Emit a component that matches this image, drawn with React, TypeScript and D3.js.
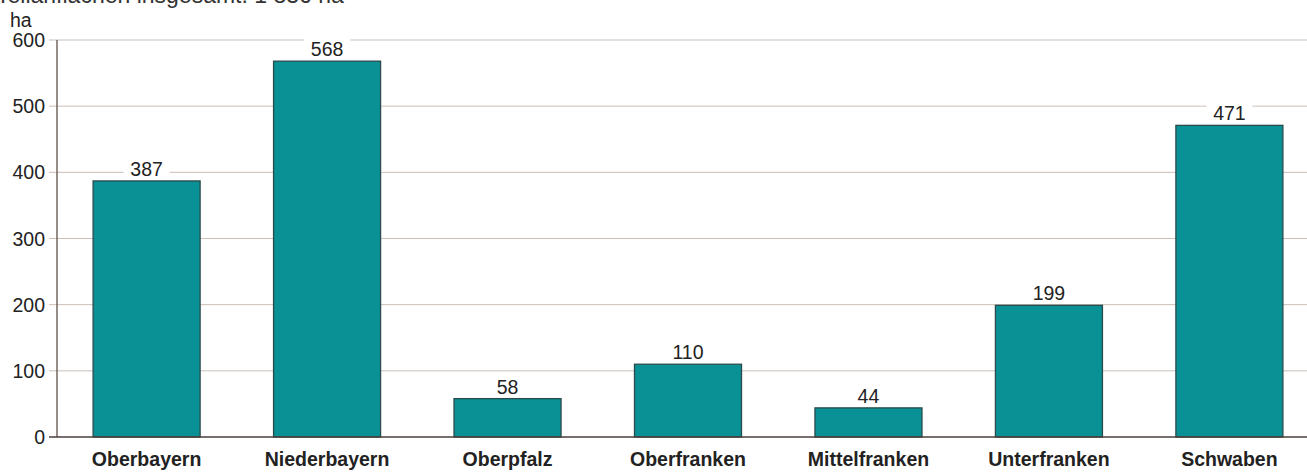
import React, { useEffect, useRef } from "react";
import * as d3 from "d3";

const regions = [
  "Oberbayern",
  "Niederbayern",
  "Oberpfalz",
  "Oberfranken",
  "Mittelfranken",
  "Unterfranken",
  "Schwaben",
];
const hectares = [387, 568, 58, 110, 44, 199, 471];
const yTicks = [0, 100, 200, 300, 400, 500, 600];
const title = "Teilanflächen insgesamt: 1 836 ha";
const unit = "ha";

const W = 1307;
const H = 472;

export default function App() {
  const ref = useRef<SVGSVGElement>(null);

  useEffect(() => {
    document.body.style.margin = "0";
    const svg = d3.select(ref.current);
    svg.selectAll("*").remove();

    const font = "'Liberation Sans', Arial, Helvetica, sans-serif";
    const left = 57;
    const bottom = 437;
    const top = 40;

    const x = d3
      .scaleBand()
      .domain(regions)
      .range([left, 1319])
      .paddingInner(0.407)
      .paddingOuter(0.2);
    const y = d3.scaleLinear().domain([0, 600]).range([bottom, top]);

    // title, only its lower edge shows at the top of the picture
    svg
      .append("text")
      .attr("x", -4)
      .attr("y", 3)
      .style("font-family", font)
      .style("font-size", "23px")
      .style("fill", "#333")
      .text(title);

    // gridlines
    svg
      .append("g")
      .selectAll("line")
      .data(yTicks.filter((d) => d > 0))
      .enter()
      .append("line")
      .attr("x1", 49)
      .attr("x2", W)
      .attr("y1", (d) => y(d))
      .attr("y2", (d) => y(d))
      .attr("stroke", "#cbbfb8")
      .attr("stroke-width", 1);

    svg
      .append("g")
      .selectAll("text")
      .data(yTicks)
      .enter()
      .append("text")
      .attr("x", 45)
      .attr("y", (d) => y(d))
      .attr("dy", "0.36em")
      .attr("text-anchor", "end")
      .style("font-family", font)
      .style("font-size", "19.5px")
      .style("fill", "#222")
      .text((d) => d);

    svg
      .append("text")
      .attr("x", 10)
      .attr("y", 27)
      .style("font-family", font)
      .style("font-size", "19.5px")
      .style("fill", "#222")
      .text(unit);

    // bars
    svg
      .append("g")
      .selectAll("rect")
      .data(hectares)
      .enter()
      .append("rect")
      .attr("x", (d, i) => x(regions[i]) as number)
      .attr("y", (d) => y(d))
      .attr("width", x.bandwidth())
      .attr("height", (d) => bottom - y(d))
      .attr("fill", "#0a9196")
      .attr("stroke", "#2a4a4b")
      .attr("stroke-width", 1.3);

    // value labels with white backing
    const labels = svg
      .append("g")
      .selectAll("g")
      .data(hectares)
      .enter()
      .append("g")
      .attr(
        "transform",
        (d, i) =>
          `translate(${(x(regions[i]) as number) + x.bandwidth() / 2},${y(d) - 12})`
      );
    labels
      .append("rect")
      .attr("x", -23)
      .attr("y", -11)
      .attr("width", 46)
      .attr("height", 21)
      .attr("fill", "#fff");
    labels
      .append("text")
      .attr("text-anchor", "middle")
      .attr("dy", "0.36em")
      .style("font-family", font)
      .style("font-size", "19.5px")
      .style("fill", "#222")
      .text((d) => d);

    // axes
    svg
      .append("line")
      .attr("x1", left)
      .attr("x2", left)
      .attr("y1", top)
      .attr("y2", bottom)
      .attr("stroke", "#5e504a")
      .attr("stroke-width", 1.3);
    svg
      .append("line")
      .attr("x1", 49)
      .attr("x2", W)
      .attr("y1", bottom)
      .attr("y2", bottom)
      .attr("stroke", "#4a3f3a")
      .attr("stroke-width", 1.5);

    // category labels
    svg
      .append("g")
      .selectAll("text")
      .data(regions)
      .enter()
      .append("text")
      .attr("x", (d) => (x(d) as number) + x.bandwidth() / 2)
      .attr("y", 466)
      .attr("text-anchor", "middle")
      .style("font-family", font)
      .style("font-size", "19.5px")
      .style("font-weight", "bold")
      .style("fill", "#222")
      .text((d) => d);
  }, []);

  return <svg ref={ref} width={W} height={H} style={{ display: "block" }} />;
}
